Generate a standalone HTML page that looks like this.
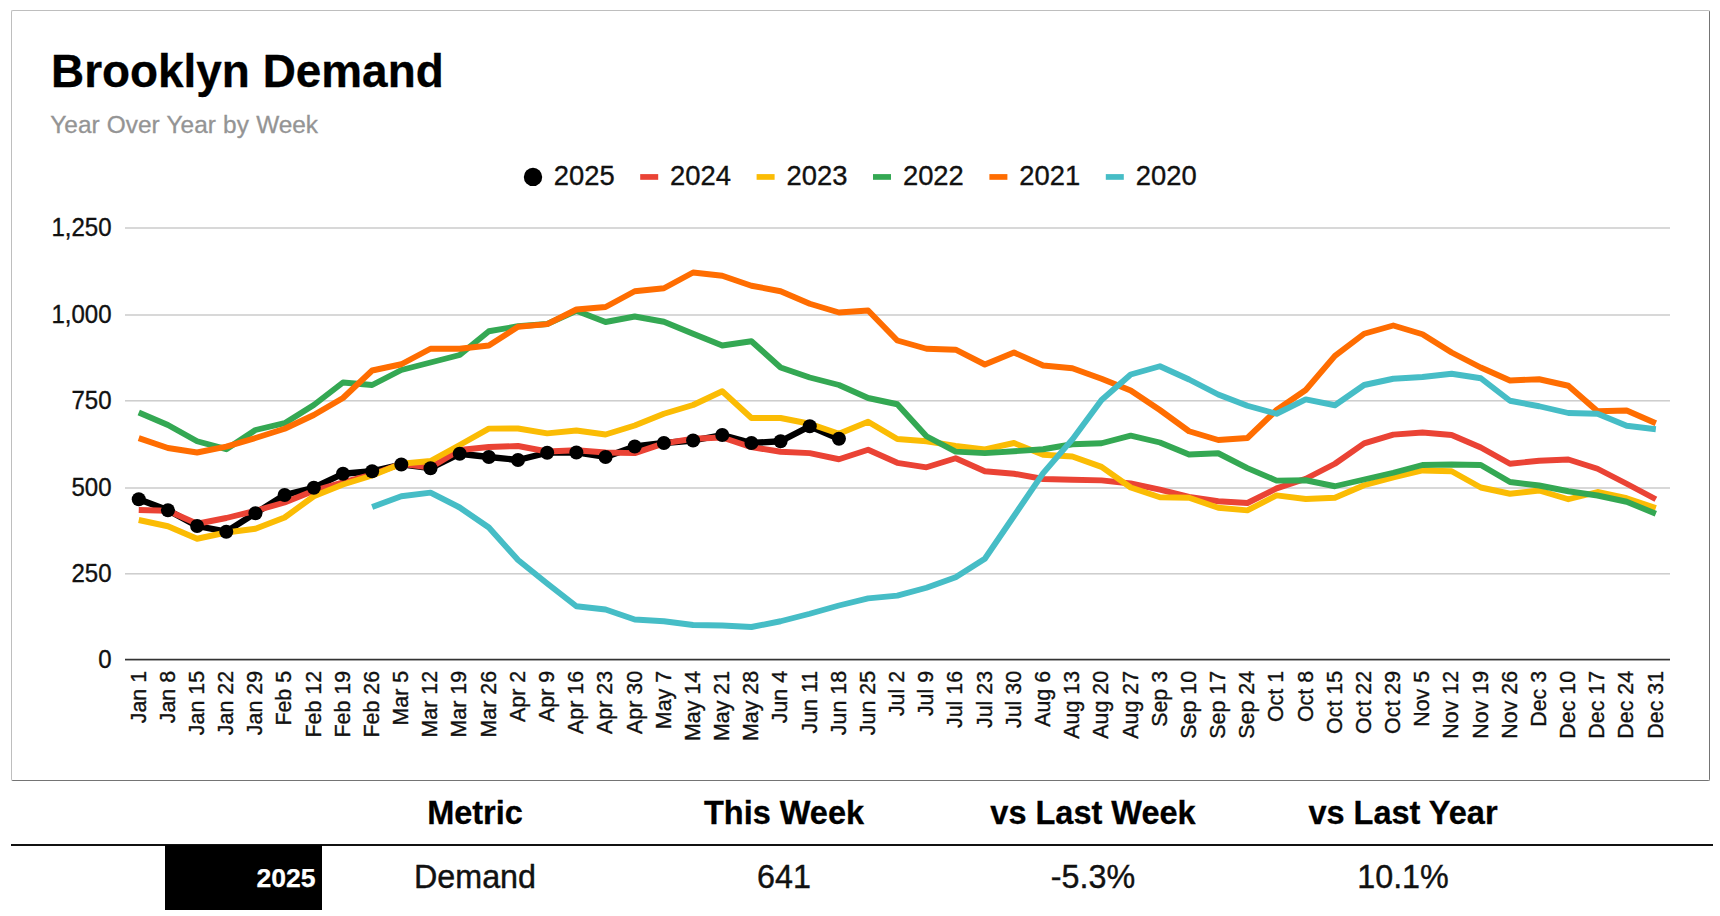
<!DOCTYPE html>
<html lang="en">
<head>
<meta charset="utf-8">
<title>Brooklyn Demand</title>
<style>
html,body{margin:0;padding:0;background:#fff;}
body{width:1720px;height:916px;position:relative;overflow:hidden;font-family:"Liberation Sans",Arial,sans-serif;color:#000;}
.card{position:absolute;left:11px;top:10px;width:1697px;height:769px;border:1px solid;border-color:#bebebe #747474 #747474 #bebebe;border-radius:2px;background:#fff;box-sizing:content-box;}
h1{position:absolute;left:51px;top:43.5px;margin:0;font-size:45.9px;line-height:54px;font-weight:700;white-space:nowrap;letter-spacing:0;}
.sub{word-spacing:0.5px;position:absolute;left:50.3px;top:110.2px;margin:0;font-size:24.4px;line-height:30px;color:#949494;white-space:nowrap;}
svg.plot{position:absolute;left:0;top:0;}
svg text{font-family:"Liberation Sans",Arial,sans-serif;fill:#111;stroke:#111;stroke-width:0.35px;}
.ylab text{font-size:24px;}
.xlab text{font-size:21.4px;}
.leg text{font-size:27.4px;fill:#111;}
h1{-webkit-text-stroke:0.3px #000;}
.sub{-webkit-text-stroke:0.3px #949494;}
.th{-webkit-text-stroke:0.3px #000;}
.td{-webkit-text-stroke:0.4px #111;}
.yr{-webkit-text-stroke:0.25px #fff;}
.tbl{position:absolute;left:11px;top:781px;width:1702px;height:135px;}
.th{position:absolute;top:10px;height:44px;line-height:44px;font-size:32.5px;font-weight:700;text-align:center;width:310px;white-space:nowrap;}
.rule{position:absolute;left:0;top:62.8px;width:1702px;height:2.1px;background:#111;}
.yr{position:absolute;left:154px;top:64px;width:157px;height:65px;background:#000;color:#fff;font-weight:700;font-size:26.6px;line-height:66px;text-align:right;box-sizing:border-box;padding-right:6.4px;}
.td{position:absolute;top:74px;height:44px;line-height:44px;font-size:32.3px;text-align:center;width:310px;white-space:nowrap;color:#111;}
.n{display:inline-block;transform:scaleY(1.04);transform-origin:50% 77%;}
.yr .n{transform:none;}
.c1{left:309px;} .c2{left:618px;} .c3{left:927px;} .c4{left:1237px;}
</style>
</head>
<body>
<div class="card"></div>
<h1>Brooklyn Demand</h1>
<p class="sub">Year Over Year by Week</p>
<svg class="plot" width="1720" height="916" viewBox="0 0 1720 916">
<rect x="125" y="227.25" width="1545" height="1.5" fill="#cccccc"/>
<rect x="125" y="314.25" width="1545" height="1.5" fill="#cccccc"/>
<rect x="125" y="400.05" width="1545" height="1.5" fill="#cccccc"/>
<rect x="125" y="487.25" width="1545" height="1.5" fill="#cccccc"/>
<rect x="125" y="573.05" width="1545" height="1.5" fill="#cccccc"/>
<rect x="125" y="658.75" width="1545" height="1.7" fill="#333333"/>
<polyline fill="none" stroke="#000000" stroke-width="6.3" stroke-linejoin="round" stroke-linecap="butt" points="138.75,499.2 167.93,510.2 197.1,526 226.28,531.7 255.45,513.2 284.62,495 313.8,487.7 342.98,473.75 372.15,471.25 401.32,464.5 430.5,468.25 459.68,453.75 488.85,457 518.03,460 547.2,452.7 576.38,452.5 605.55,457 634.73,446.5 663.9,443 693.08,440.5 722.25,435 751.43,443 780.6,441.25 809.77,426.25 838.95,438.75"/>
<polyline fill="none" stroke="#ea4335" stroke-width="5.9" stroke-linejoin="round" stroke-linecap="butt" points="138.75,510 167.93,510.75 197.1,523.75 226.28,518 255.45,510.75 284.62,502.5 313.8,490.75 342.98,482.3 372.15,474.5 401.32,463.75 430.5,467.5 459.68,450 488.85,447 518.03,446 547.2,451.5 576.38,450.2 605.55,452.5 634.73,453.1 663.9,443.4 693.08,438.75 722.25,437.5 751.43,447.2 780.6,451.75 809.77,453.1 838.95,459.25 868.12,449.8 897.3,462.8 926.48,467.3 955.65,458.3 984.83,471.25 1014.0,473.75 1043.18,479 1072.35,479.75 1101.53,480.4 1130.7,483.5 1159.88,489.6 1189.05,496.9 1218.23,501.25 1247.4,503 1276.58,488.4 1305.75,478.75 1334.92,463.75 1364.1,443.4 1393.28,434.6 1422.45,432.5 1451.62,435 1480.8,447.5 1509.98,463.75 1539.15,460.75 1568.33,459.5 1597.5,468.75 1626.67,483.75 1655.85,499.25"/>
<polyline fill="none" stroke="#fbbc04" stroke-width="5.9" stroke-linejoin="round" stroke-linecap="butt" points="138.75,520 167.93,526.25 197.1,538.75 226.28,532.5 255.45,528.75 284.62,517.5 313.8,496.25 342.98,484.5 372.15,475.5 401.32,463.75 430.5,461 459.68,445 488.85,428.6 518.03,428.5 547.2,433.4 576.38,430.5 605.55,434.5 634.73,425.5 663.9,413.75 693.08,405 722.25,391.25 751.43,418 780.6,418 809.77,423.75 838.95,433.75 868.12,421.8 897.3,439 926.48,441.25 955.65,445.9 984.83,449.4 1014.0,443 1043.18,454.75 1072.35,456.5 1101.53,466.9 1130.7,487.5 1159.88,497.25 1189.05,497.75 1218.23,507.75 1247.4,510.4 1276.58,495.4 1305.75,499 1334.92,497.75 1364.1,485.25 1393.28,477.5 1422.45,470.5 1451.62,471.25 1480.8,487.5 1509.98,493.75 1539.15,490.5 1568.33,499.25 1597.5,492 1626.67,498.25 1655.85,508"/>
<polyline fill="none" stroke="#34a853" stroke-width="5.9" stroke-linejoin="round" stroke-linecap="butt" points="138.75,412.5 167.93,425 197.1,441.25 226.28,449.2 255.45,430 284.62,423.2 313.8,405 342.98,382.5 372.15,385 401.32,370 430.5,362.5 459.68,355 488.85,331.25 518.03,326.25 547.2,324 576.38,310.75 605.55,322 634.73,316.5 663.9,321.75 693.08,333.75 722.25,345.5 751.43,341.25 780.6,367.5 809.77,377.5 838.95,385 868.12,398 897.3,404.25 926.48,436.25 955.65,451.6 984.83,453.1 1014.0,451.25 1043.18,449.25 1072.35,444.25 1101.53,443.25 1130.7,435.6 1159.88,442.5 1189.05,454.5 1218.23,453.25 1247.4,468.1 1276.58,480.6 1305.75,480.25 1334.92,486.25 1364.1,479.5 1393.28,472.75 1422.45,465 1451.62,464.5 1480.8,465 1509.98,482 1539.15,485.5 1568.33,491.25 1597.5,495.5 1626.67,501.75 1655.85,513.75"/>
<polyline fill="none" stroke="#ff6d01" stroke-width="5.9" stroke-linejoin="round" stroke-linecap="butt" points="138.75,438.1 167.93,448 197.1,452.5 226.28,446.6 255.45,438.0 284.62,428.75 313.8,415 342.98,398 372.15,370.5 401.32,364.25 430.5,348.75 459.68,348.75 488.85,345.5 518.03,326.75 547.2,324.1 576.38,309.5 605.55,307 634.73,291.25 663.9,288.25 693.08,272.5 722.25,275.75 751.43,285.75 780.6,291.25 809.77,303.75 838.95,312.5 868.12,310.5 897.3,340.5 926.48,348.75 955.65,349.7 984.83,364.5 1014.0,352.5 1043.18,365.5 1072.35,368.25 1101.53,378.75 1130.7,390.5 1159.88,410 1189.05,431.25 1218.23,440 1247.4,438 1276.58,410 1305.75,390 1334.92,355.9 1364.1,333.75 1393.28,325.5 1422.45,334.25 1451.62,352.5 1480.8,367.5 1509.98,380.5 1539.15,379.25 1568.33,385.75 1597.5,411.25 1626.67,410.5 1655.85,423.25"/>
<polyline fill="none" stroke="#46bdc6" stroke-width="5.9" stroke-linejoin="round" stroke-linecap="butt" points="372.15,507 401.32,496.25 430.5,492.6 459.68,507.5 488.85,527.5 518.03,560 547.2,583.5 576.38,606.25 605.55,609.5 634.73,619.5 663.9,621.25 693.08,625 722.25,625.5 751.43,627 780.6,621.25 809.77,613.75 838.95,605.5 868.12,598.4 897.3,595.6 926.48,587.75 955.65,577.25 984.83,558.75 1014.0,516 1043.18,473.1 1072.35,439.4 1101.53,400 1130.7,374.5 1159.88,366.25 1189.05,379.5 1218.23,394.5 1247.4,405.75 1276.58,413.75 1305.75,399.4 1334.92,405.25 1364.1,385 1393.28,378.75 1422.45,377 1451.62,373.75 1480.8,378.25 1509.98,400.75 1539.15,406.25 1568.33,413 1597.5,413.75 1626.67,425.75 1655.85,429.25"/>
<circle cx="138.75" cy="499.2" r="7" fill="#000"/>
<circle cx="167.93" cy="510.2" r="7" fill="#000"/>
<circle cx="197.1" cy="526" r="7" fill="#000"/>
<circle cx="226.28" cy="531.7" r="7" fill="#000"/>
<circle cx="255.45" cy="513.2" r="7" fill="#000"/>
<circle cx="284.62" cy="495" r="7" fill="#000"/>
<circle cx="313.8" cy="487.7" r="7" fill="#000"/>
<circle cx="342.98" cy="473.75" r="7" fill="#000"/>
<circle cx="372.15" cy="471.25" r="7" fill="#000"/>
<circle cx="401.32" cy="464.5" r="7" fill="#000"/>
<circle cx="430.5" cy="468.25" r="7" fill="#000"/>
<circle cx="459.68" cy="453.75" r="7" fill="#000"/>
<circle cx="488.85" cy="457" r="7" fill="#000"/>
<circle cx="518.03" cy="460" r="7" fill="#000"/>
<circle cx="547.2" cy="452.7" r="7" fill="#000"/>
<circle cx="576.38" cy="452.5" r="7" fill="#000"/>
<circle cx="605.55" cy="457" r="7" fill="#000"/>
<circle cx="634.73" cy="446.5" r="7" fill="#000"/>
<circle cx="663.9" cy="443" r="7" fill="#000"/>
<circle cx="693.08" cy="440.5" r="7" fill="#000"/>
<circle cx="722.25" cy="435" r="7" fill="#000"/>
<circle cx="751.43" cy="443" r="7" fill="#000"/>
<circle cx="780.6" cy="441.25" r="7" fill="#000"/>
<circle cx="809.77" cy="426.25" r="7" fill="#000"/>
<circle cx="838.95" cy="438.75" r="7" fill="#000"/>
<g class="ylab" text-anchor="end">
<text transform="translate(111.5 236.30) scale(1 1.04)">1,250</text>
<text transform="translate(111.5 322.70) scale(1 1.04)">1,000</text>
<text transform="translate(111.5 409.10) scale(1 1.04)">750</text>
<text transform="translate(111.5 495.50) scale(1 1.04)">500</text>
<text transform="translate(111.5 581.90) scale(1 1.04)">250</text>
<text transform="translate(111.5 668.30) scale(1 1.04)">0</text>
</g>
<g class="xlab" text-anchor="end">
<text transform="translate(145.55 670.9) rotate(-90) scale(1 1.045)">Jan 1</text>
<text transform="translate(174.73 670.9) rotate(-90) scale(1 1.045)">Jan 8</text>
<text transform="translate(203.90 670.9) rotate(-90) scale(1 1.045)">Jan 15</text>
<text transform="translate(233.08 670.9) rotate(-90) scale(1 1.045)">Jan 22</text>
<text transform="translate(262.25 670.9) rotate(-90) scale(1 1.045)">Jan 29</text>
<text transform="translate(291.42 670.9) rotate(-90) scale(1 1.045)">Feb 5</text>
<text transform="translate(320.60 670.9) rotate(-90) scale(1 1.045)">Feb 12</text>
<text transform="translate(349.78 670.9) rotate(-90) scale(1 1.045)">Feb 19</text>
<text transform="translate(378.95 670.9) rotate(-90) scale(1 1.045)">Feb 26</text>
<text transform="translate(408.12 670.9) rotate(-90) scale(1 1.045)">Mar 5</text>
<text transform="translate(437.30 670.9) rotate(-90) scale(1 1.045)">Mar 12</text>
<text transform="translate(466.48 670.9) rotate(-90) scale(1 1.045)">Mar 19</text>
<text transform="translate(495.65 670.9) rotate(-90) scale(1 1.045)">Mar 26</text>
<text transform="translate(524.83 670.9) rotate(-90) scale(1 1.045)">Apr 2</text>
<text transform="translate(554.00 670.9) rotate(-90) scale(1 1.045)">Apr 9</text>
<text transform="translate(583.18 670.9) rotate(-90) scale(1 1.045)">Apr 16</text>
<text transform="translate(612.35 670.9) rotate(-90) scale(1 1.045)">Apr 23</text>
<text transform="translate(641.53 670.9) rotate(-90) scale(1 1.045)">Apr 30</text>
<text transform="translate(670.70 670.9) rotate(-90) scale(1 1.045)">May 7</text>
<text transform="translate(699.88 670.9) rotate(-90) scale(1 1.045)">May 14</text>
<text transform="translate(729.05 670.9) rotate(-90) scale(1 1.045)">May 21</text>
<text transform="translate(758.23 670.9) rotate(-90) scale(1 1.045)">May 28</text>
<text transform="translate(787.40 670.9) rotate(-90) scale(1 1.045)">Jun 4</text>
<text transform="translate(816.57 670.9) rotate(-90) scale(1 1.045)">Jun 11</text>
<text transform="translate(845.75 670.9) rotate(-90) scale(1 1.045)">Jun 18</text>
<text transform="translate(874.92 670.9) rotate(-90) scale(1 1.045)">Jun 25</text>
<text transform="translate(904.10 670.9) rotate(-90) scale(1 1.045)">Jul 2</text>
<text transform="translate(933.28 670.9) rotate(-90) scale(1 1.045)">Jul 9</text>
<text transform="translate(962.45 670.9) rotate(-90) scale(1 1.045)">Jul 16</text>
<text transform="translate(991.63 670.9) rotate(-90) scale(1 1.045)">Jul 23</text>
<text transform="translate(1020.80 670.9) rotate(-90) scale(1 1.045)">Jul 30</text>
<text transform="translate(1049.98 670.9) rotate(-90) scale(1 1.045)">Aug 6</text>
<text transform="translate(1079.15 670.9) rotate(-90) scale(1 1.045)">Aug 13</text>
<text transform="translate(1108.33 670.9) rotate(-90) scale(1 1.045)">Aug 20</text>
<text transform="translate(1137.50 670.9) rotate(-90) scale(1 1.045)">Aug 27</text>
<text transform="translate(1166.68 670.9) rotate(-90) scale(1 1.045)">Sep 3</text>
<text transform="translate(1195.85 670.9) rotate(-90) scale(1 1.045)">Sep 10</text>
<text transform="translate(1225.03 670.9) rotate(-90) scale(1 1.045)">Sep 17</text>
<text transform="translate(1254.20 670.9) rotate(-90) scale(1 1.045)">Sep 24</text>
<text transform="translate(1283.38 670.9) rotate(-90) scale(1 1.045)">Oct 1</text>
<text transform="translate(1312.55 670.9) rotate(-90) scale(1 1.045)">Oct 8</text>
<text transform="translate(1341.72 670.9) rotate(-90) scale(1 1.045)">Oct 15</text>
<text transform="translate(1370.90 670.9) rotate(-90) scale(1 1.045)">Oct 22</text>
<text transform="translate(1400.08 670.9) rotate(-90) scale(1 1.045)">Oct 29</text>
<text transform="translate(1429.25 670.9) rotate(-90) scale(1 1.045)">Nov 5</text>
<text transform="translate(1458.42 670.9) rotate(-90) scale(1 1.045)">Nov 12</text>
<text transform="translate(1487.60 670.9) rotate(-90) scale(1 1.045)">Nov 19</text>
<text transform="translate(1516.78 670.9) rotate(-90) scale(1 1.045)">Nov 26</text>
<text transform="translate(1545.95 670.9) rotate(-90) scale(1 1.045)">Dec 3</text>
<text transform="translate(1575.13 670.9) rotate(-90) scale(1 1.045)">Dec 10</text>
<text transform="translate(1604.30 670.9) rotate(-90) scale(1 1.045)">Dec 17</text>
<text transform="translate(1633.47 670.9) rotate(-90) scale(1 1.045)">Dec 24</text>
<text transform="translate(1662.65 670.9) rotate(-90) scale(1 1.045)">Dec 31</text>
</g>
<g class="leg">
<circle cx="533.00" cy="176.9" r="9.2" fill="#000"/>
<text transform="translate(553.70 185.1) scale(1 1.035)">2025</text>
<rect x="640.20" y="174.1" width="18" height="5.7" fill="#ea4335"/>
<text transform="translate(670.10 185.1) scale(1 1.035)">2024</text>
<rect x="756.60" y="174.1" width="18" height="5.7" fill="#fbbc04"/>
<text transform="translate(786.50 185.1) scale(1 1.035)">2023</text>
<rect x="873.00" y="174.1" width="18" height="5.7" fill="#34a853"/>
<text transform="translate(902.90 185.1) scale(1 1.035)">2022</text>
<rect x="989.40" y="174.1" width="18" height="5.7" fill="#ff6d01"/>
<text transform="translate(1019.30 185.1) scale(1 1.035)">2021</text>
<rect x="1105.80" y="174.1" width="18" height="5.7" fill="#46bdc6"/>
<text transform="translate(1135.70 185.1) scale(1 1.035)">2020</text>
</g>
</svg>
<div class="tbl">
  <div class="th c1">Metric</div>
  <div class="th c2">This Week</div>
  <div class="th c3">vs Last Week</div>
  <div class="th c4">vs Last Year</div>
  <div class="rule"></div>
  <div class="yr"><span class="n">2025</span></div>
  <div class="td c1">Demand</div>
  <div class="td c2"><span class="n">641</span></div>
  <div class="td c3"><span class="n">-5.3%</span></div>
  <div class="td c4"><span class="n">10.1%</span></div>
</div>
</body>
</html>
